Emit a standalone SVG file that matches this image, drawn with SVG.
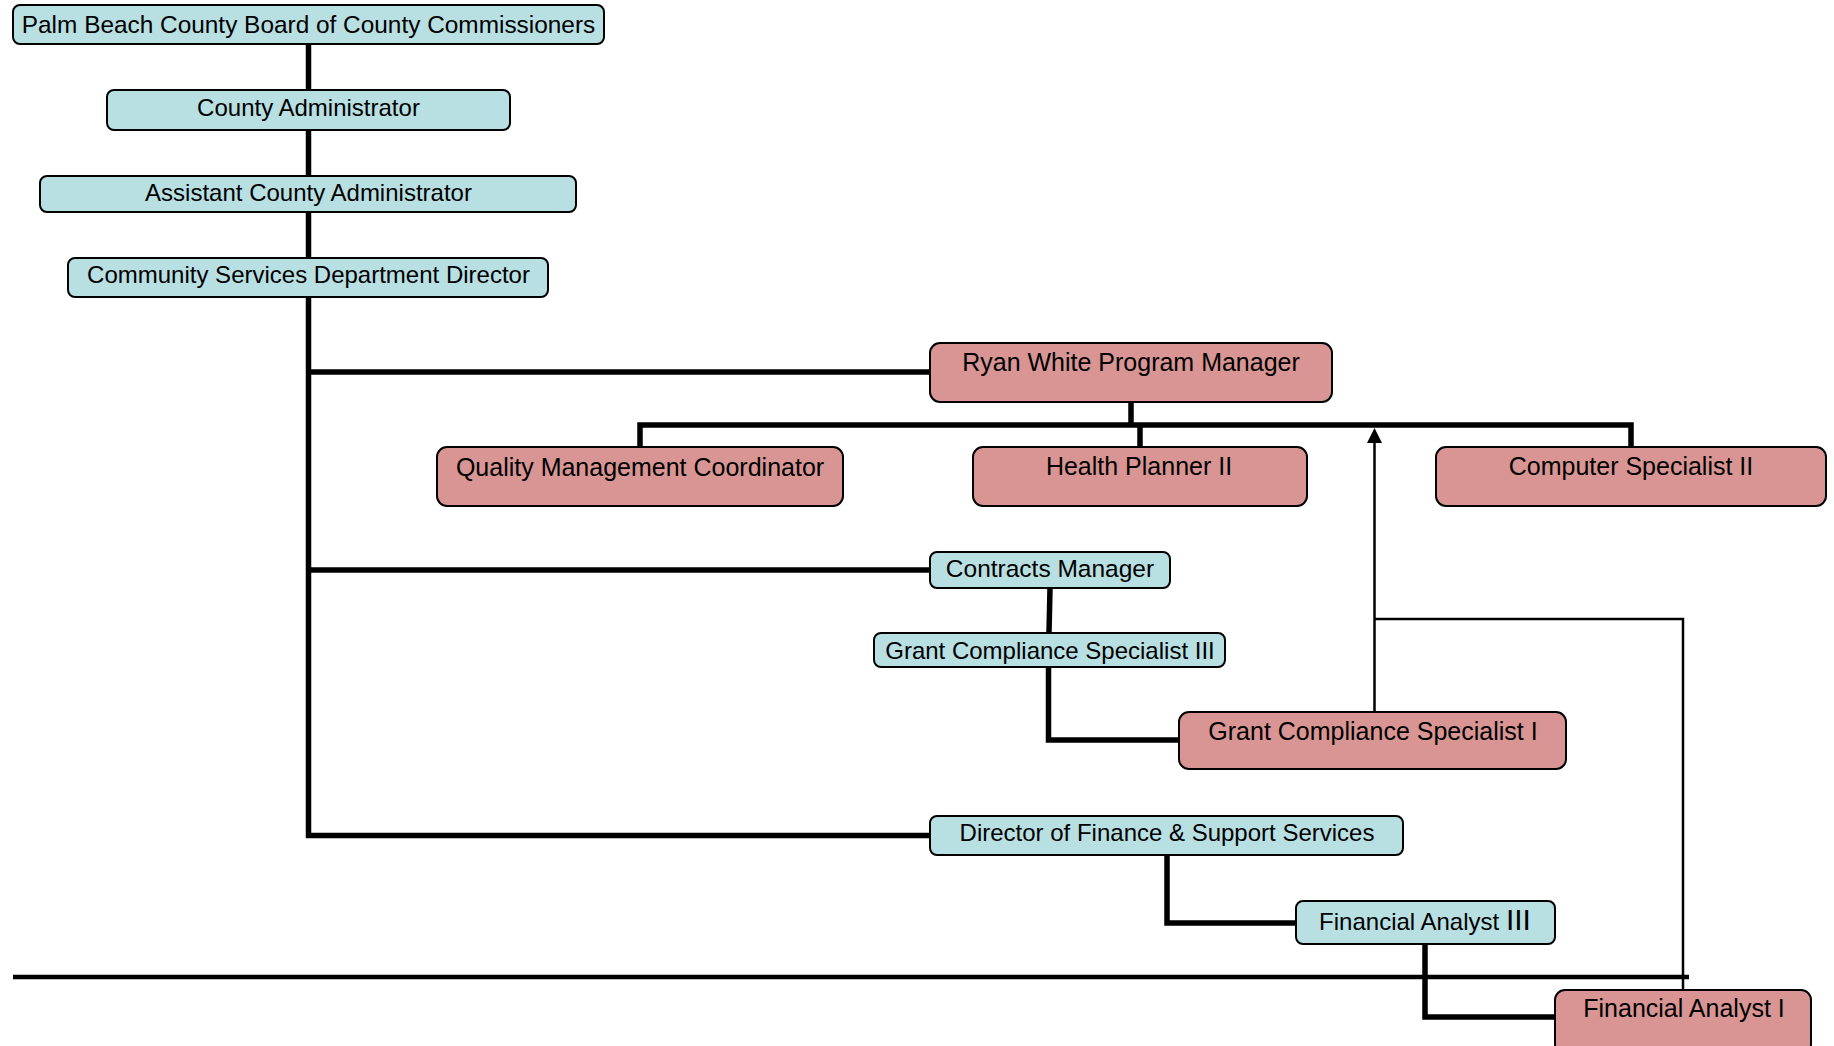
<svg xmlns="http://www.w3.org/2000/svg" width="1834" height="1046" viewBox="0 0 1834 1046">
<style>
  .blue { fill: #B8DFE2; stroke: #000; stroke-width: 2; }
  .red { fill: #D99594; stroke: #000; stroke-width: 2; }
  text { font-family: "Liberation Sans", Arial, sans-serif; fill: #000; text-anchor: middle; }
  .t24 { font-size: 24px; }
  .t25 { font-size: 25px; }
  .thick { fill: none; stroke: #000; stroke-width: 5.5; stroke-linejoin: miter; }
  .thin { fill: none; stroke: #000; stroke-width: 2.5; }
</style>
<defs>
  <marker id="arrow" viewBox="0 0 15 15" refX="7" refY="7.5" markerWidth="15" markerHeight="15" markerUnits="userSpaceOnUse" orient="auto">
    <path d="M0,0 L15,7.5 L0,15 z" fill="#000"/>
  </marker>
</defs>
<rect width="1834" height="1046" fill="#fff"/>

<g id="connectors">
  <line class="thick" x1="308.5" y1="44" x2="308.5" y2="90"/>
  <line class="thick" x1="308.5" y1="130" x2="308.5" y2="176"/>
  <line class="thick" x1="308.5" y1="212" x2="308.5" y2="258"/>
  <polyline class="thick" points="308.5,297 308.5,835.5 930,835.5"/>
  <line class="thick" x1="308.5" y1="372" x2="930" y2="372"/>
  <line class="thick" x1="308.5" y1="570" x2="930" y2="570"/>
  <line class="thick" x1="1131" y1="402" x2="1131" y2="425"/>
  <polyline class="thick" points="640,447 640,425 1631,425 1631,447"/>
  <line class="thick" x1="1140" y1="425" x2="1140" y2="447"/>
  <line class="thick" x1="1050" y1="588" x2="1049" y2="633"/>
  <polyline class="thick" points="1048.5,667 1048.5,740 1179,740"/>
  <polyline class="thick" points="1167,855 1167,923 1296,923"/>
  <polyline class="thick" points="1425,944 1425,1017 1555,1017"/>
  <line class="thick" x1="13" y1="977" x2="1689" y2="977" style="stroke-width:4.5"/>
  <polyline class="thin" points="1683,990 1683,619 1374.5,619"/>
  <line class="thin" x1="1374.5" y1="712" x2="1374.5" y2="436" marker-end="url(#arrow)"/>
</g>

<g id="n-board">
  <rect class="blue" x="13" y="5" width="591" height="39" rx="7"/>
  <text class="t24" x="308.5" y="33" style="font-size:24.4px">Palm Beach County Board of County Commissioners</text>
</g>
<g id="n-county-admin">
  <rect class="blue" x="107" y="90" width="403" height="40" rx="7"/>
  <text class="t24" x="308.5" y="116">County Administrator</text>
</g>
<g id="n-asst-admin">
  <rect class="blue" x="40" y="176" width="536" height="36" rx="7"/>
  <text class="t24" x="308.5" y="201">Assistant County Administrator</text>
</g>
<g id="n-csd-director">
  <rect class="blue" x="68" y="258" width="480" height="39" rx="7"/>
  <text class="t24" x="308.5" y="283">Community Services Department Director</text>
</g>
<g id="n-ryan-white">
  <rect class="red" x="930" y="343" width="402" height="59" rx="10"/>
  <text class="t25" x="1131" y="371">Ryan White Program Manager</text>
</g>
<g id="n-quality">
  <rect class="red" x="437" y="447" width="406" height="59" rx="10"/>
  <text class="t25" x="640" y="476">Quality Management Coordinator</text>
</g>
<g id="n-health-planner">
  <rect class="red" x="973" y="447" width="334" height="59" rx="10"/>
  <text class="t25" x="1139" y="475">Health Planner II</text>
</g>
<g id="n-computer">
  <rect class="red" x="1436" y="447" width="390" height="59" rx="10"/>
  <text class="t25" x="1631" y="475">Computer Specialist II</text>
</g>
<g id="n-contracts">
  <rect class="blue" x="930" y="552" width="240" height="36" rx="7"/>
  <text class="t24" x="1050" y="577" style="font-size:24.5px">Contracts Manager</text>
</g>
<g id="n-gcs3">
  <rect class="blue" x="874" y="633" width="351" height="34" rx="7"/>
  <text class="t24" x="1050" y="659">Grant Compliance Specialist III</text>
</g>
<g id="n-gcs1">
  <rect class="red" x="1179" y="712" width="387" height="57" rx="10"/>
  <text class="t25" x="1373" y="740">Grant Compliance Specialist I</text>
</g>
<g id="n-director-finance">
  <rect class="blue" x="930" y="816" width="473" height="39" rx="7"/>
  <text class="t24" x="1167" y="841">Director of Finance &amp; Support Services</text>
</g>
<g id="n-fa3">
  <rect class="blue" x="1296" y="901" width="259" height="43" rx="7"/>
  <text class="t24" x="1425" y="930">Financial Analyst <tspan style="font-size:30px">III</tspan></text>
</g>
<g id="n-fa1">
  <rect class="red" x="1555" y="990" width="256" height="64" rx="10"/>
  <text class="t25" x="1684" y="1017">Financial Analyst I</text>
</g>
</svg>
